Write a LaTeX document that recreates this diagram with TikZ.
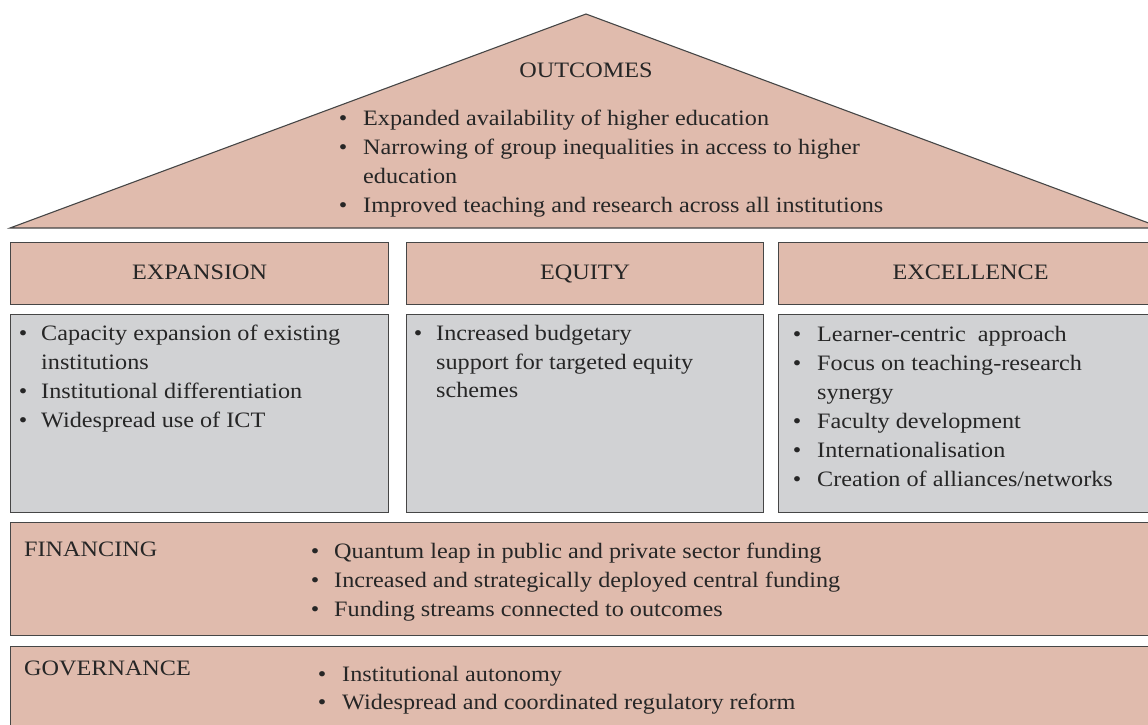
\documentclass[tikz,border=0pt]{standalone}
\usepackage{fontspec}
\setmainfont[FakeStretch=1.1]{Liberation Serif}
\usepackage{tikz}

\definecolor{roofpink}{RGB}{224,187,173}
\definecolor{pillargray}{RGB}{209,210,212}
\definecolor{edgegray}{RGB}{70,70,70}
\newcommand{\housefont}{\fontsize{22}{26}\selectfont}

\tikzset{
  pinkbox/.style={draw=edgegray, line width=1.1pt, fill=roofpink, anchor=north west,
    inner sep=0pt, text height=15pt, text depth=4pt, font=\housefont, text=black!85},
  graybox/.style={pinkbox, fill=pillargray},
  itemtext/.style={anchor=base west, inner sep=0pt, font=\housefont, text=black!85},
  itemdot/.style={anchor=base, inner sep=0pt, font=\housefont, text=black!85}
}

\begin{document}
\begin{tikzpicture}[x=1pt,y=-1pt]
		\useasboundingbox (0,0) rectangle (1148,724);
		% Roof with the outcomes
		\coordinate (roofleft) at (10,228);
		\coordinate (roofapex) at (586,14);
		\coordinate (roofright) at (1162,228);
		\draw[draw=edgegray, line width=1.1pt, fill=roofpink] (roofleft) -- (roofapex) -- (roofright) -- cycle;
		\node[itemtext, anchor=base] (outcomes) at (586,77) {OUTCOMES};
		\foreach \y in {125,154,212}
		{\node[itemdot] at (343,\y) {\textbullet};}
		\foreach \y/\txt in {125/Expanded availability of higher education,
			154/Narrowing of group inequalities in access to higher,
			183/education,
			212/Improved teaching and research across all institutions}
		{\node[itemtext] at (363,\y) {\txt};}
		% Pillars: headers and contents
		\foreach \x/\w/\name/\label in {10/378/expansion/EXPANSION,
			406/357/equity/EQUITY,
			778/384/excellence/EXCELLENCE}
		{\node[pinkbox, minimum width=\w, minimum height=62] (\name) at (\x,242) {\label};
			\node[graybox, minimum width=\w, minimum height=198] (\name body) at (\x,314) {};}
		\foreach \y in {340,398,427}
		{\node[itemdot] at (23,\y) {\textbullet};}
		\foreach \y/\txt in {340/Capacity expansion of existing,
			369/institutions,
			398/Institutional differentiation,
			427/Widespread use of ICT}
		{\node[itemtext] at (41,\y) {\txt};}
		\node[itemdot] at (418,340) {\textbullet};
		\foreach \y/\txt in {340/Increased budgetary,
			369/support for targeted equity,
			397/schemes}
		{\node[itemtext] at (436,\y) {\txt};}
		\foreach \y in {341,370,428,457,486}
		{\node[itemdot] at (797,\y) {\textbullet};}
		\foreach \y/\txt in {341/Learner-centric\ \ approach,
			370/Focus on teaching-research,
			399/synergy,
			428/Faculty development,
			457/Internationalisation,
			486/{Creation of alliances/networks}}
		{\node[itemtext] at (817,\y) {\txt};}
		% Foundations
		\node[pinkbox, minimum width=1152, minimum height=113] (financing) at (10,522) {};
		\node[itemtext] at (24,556) {FINANCING};
		\foreach \y/\txt in {558/Quantum leap in public and private sector funding,
			587/Increased and strategically deployed central funding,
			616/Funding streams connected to outcomes}
		{\node[itemdot] at (315,\y) {\textbullet};
			\node[itemtext] at (334,\y) {\txt};}
		\node[pinkbox, minimum width=1152, minimum height=100] (governance) at (10,646) {};
		\node[itemtext] at (24,675) {GOVERNANCE};
		\foreach \y/\txt in {681/Institutional autonomy,
			709/Widespread and coordinated regulatory reform}
		{\node[itemdot] at (322,\y) {\textbullet};
			\node[itemtext] at (342,\y) {\txt};}
	\end{tikzpicture}
\end{document}
